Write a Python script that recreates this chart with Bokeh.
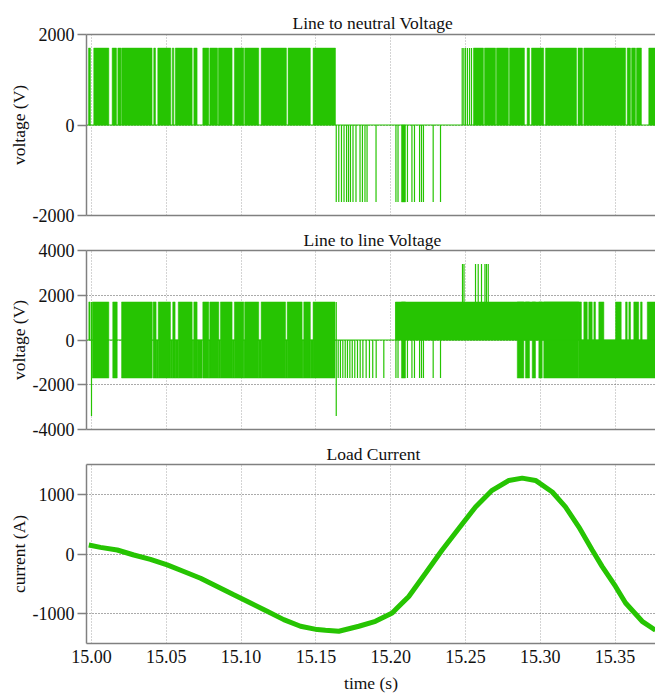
from bokeh.plotting import figure
from bokeh.models import Range1d, FixedTicker, LinearAxis, NumeralTickFormatter
from bokeh.layouts import column
from bokeh.embed import file_html
from bokeh.resources import INLINE

# ---------------- data ----------------
x_ticks = [15.00, 15.05, 15.10, 15.15, 15.20, 15.25, 15.30, 15.35]
x_start, x_end = 14.99666, 15.37701

# Line-to-neutral voltage
LN_LEVEL = 1700
ln_pos_start = [14.9980, 15.0015, 15.0138, 15.0176, 15.0201, 15.0416, 15.0443, 15.0540, 15.0560,
                15.0684, 15.0744, 15.0791, 15.0848, 15.0955, 15.1024, 15.1134, 15.1314, 15.1481,
                15.2553, 15.2627, 15.2707, 15.2794, 15.2912, 15.2941, 15.3035, 15.3252, 15.3291,
                15.3581, 15.3610, 15.3643, 15.3725]
ln_pos_end = [14.9993, 15.0116, 15.0167, 15.0197, 15.0405, 15.0428, 15.0530, 15.0550, 15.0673,
              15.0706, 15.0784, 15.0843, 15.0940, 15.1018, 15.1118, 15.1303, 15.1463, 15.1631,
              15.2620, 15.2701, 15.2787, 15.2894, 15.2928, 15.3023, 15.3242, 15.3282, 15.3570,
              15.3603, 15.3636, 15.3676, 15.3800]
ln_pos_spikes = [15.2478, 15.2489, 15.2500, 15.2513, 15.2527, 15.2540]
ln_neg_spikes = [15.1636, 15.1653, 15.1671, 15.1688, 15.1705, 15.1718, 15.1731, 15.1748, 15.1768,
                 15.1795, 15.1811, 15.1828, 15.1842, 15.1902, 15.2035, 15.2049, 15.2112, 15.2142,
                 15.2159, 15.2193, 15.2206, 15.2219, 15.2284, 15.2333]
ln_neg_block_start = [15.2072]
ln_neg_block_end = [15.2099]

# Line-to-line voltage
LL_LEVEL = 1700
ll_full_start = [15.0005, 15.0142, 15.0201, 15.0412, 15.0446, 15.0543, 15.0580, 15.0684, 15.0744,
                 15.0791, 15.0862, 15.0955, 15.1024, 15.1134, 15.1308, 15.1419, 15.1481, 15.2072,
                 15.2846, 15.2901, 15.2946, 15.2990, 15.3023]
ll_full_end = [15.0116, 15.0172, 15.0406, 15.0432, 15.0528, 15.0559, 15.0673, 15.0706, 15.0784,
               15.0851, 15.0940, 15.1018, 15.1118, 15.1297, 15.1408, 15.1463, 15.1628, 15.2099,
               15.2890, 15.2928, 15.2968, 15.3013, 15.3257]
ll_upper_start = [14.9982, 15.2032, 15.3257, 15.3291, 15.3324, 15.3358, 15.3391, 15.3503, 15.3570,
                  15.3592, 15.3625, 15.3670, 15.3715]
ll_upper_end = [14.9991, 15.3257, 15.3275, 15.3314, 15.3347, 15.3369, 15.3425, 15.3541, 15.3581,
                15.3603, 15.3658, 15.3681, 15.3800]
ll_lower_start = [15.0432, 15.0528, 15.0559, 15.0673, 15.0706, 15.0784, 15.0851, 15.0940, 15.1018,
                  15.1118, 15.1297, 15.1408, 15.1463, 15.3257]
ll_lower_end = [15.0446, 15.0543, 15.0580, 15.0684, 15.0740, 15.0791, 15.0862, 15.0955, 15.1024,
                15.1134, 15.1308, 15.1419, 15.1481, 15.3800]
ll_spike_t = [15.0000, 15.1636,
              15.1649, 15.1664, 15.1680, 15.1696, 15.1711, 15.1727, 15.1743, 15.1760, 15.1778,
              15.1796, 15.1814, 15.1836, 15.1858, 15.1880, 15.1903, 15.1954,
              15.2035, 15.2049,
              15.2112, 15.2142, 15.2159, 15.2193, 15.2206, 15.2219, 15.2284, 15.2333,
              15.2480, 15.2490, 15.2567, 15.2585, 15.2607, 15.2630, 15.2640, 15.2652]
ll_spike_lo = [-3400, -3400,
               -1700, -1700, -1700, -1700, -1700, -1700, -1700, -1700, -1700,
               -1700, -1700, -1700, -1700, -1700, -1700, -1700,
               -1700, -1700,
               -1700, -1700, -1700, -1700, -1700, -1700, -1700, -1700,
               1700, 1700, 1700, 1700, 1700, 1700, 1700, 1700]
ll_spike_hi = [1700, 1700,
               0, 0, 0, 0, 0, 0, 0, 0, 0,
               0, 0, 0, 0, 0, 0, 0,
               1700, 1700,
               0, 0, 0, 0, 0, 0, 0, 0,
               3400, 3400, 3400, 3400, 3400, 3400, 3400, 3400]

# Load current
cur_t = [14.9982, 15.0060, 15.0172, 15.0283, 15.0394, 15.0506, 15.0617, 15.0729, 15.0840, 15.0951,
         15.1063, 15.1174, 15.1285, 15.1397, 15.1509, 15.1564, 15.1653, 15.1787, 15.1898, 15.2010,
         15.2043, 15.2121, 15.2233, 15.2344, 15.2455, 15.2567, 15.2678, 15.2790, 15.2879, 15.2968,
         15.3080, 15.3168, 15.3257, 15.3347, 15.3414, 15.3503, 15.3570, 15.3681, 15.3770]
cur_i = [150, 111, 67, -17, -89, -183, -294, -406, -544, -683,
         -822, -961, -1100, -1211, -1267, -1278, -1294, -1211, -1128, -989,
         -906, -711, -322, 67, 428, 789, 1067, 1233, 1272, 1233,
         1039, 789, 456, 67, -211, -544, -822, -1128, -1278]

# ---------------- styling ----------------
GREEN = "#26c402"
FRAME = "#808080"
FONT = "Liberation Serif"
FS = "18px"
TFS = "17.5px"


def make_fig(height, yr, yticks, title, title_offset, title_standoff, top_border, bottom_border,
             ylabel, show_x):
    p = figure(width=655, height=height, output_backend="svg", toolbar_location=None,
               x_range=Range1d(x_start, x_end), y_range=Range1d(*yr),
               min_border_left=86, min_border_right=0,
               min_border_top=top_border, min_border_bottom=bottom_border)
    p.outline_line_color = None
    p.title.text = title
    p.title.align = "left"
    p.title.offset = title_offset
    p.title.text_font = FONT
    p.title.text_font_size = TFS
    p.title.text_font_style = "normal"
    p.title.text_color = "#111111"
    p.title.standoff = title_standoff
    xa = p.below[0]
    if show_x:
        xa.ticker = FixedTicker(ticks=x_ticks)
        xa.formatter = NumeralTickFormatter(format="0.00")
        xa.major_label_text_font = FONT
        xa.major_label_text_font_size = FS
        xa.major_label_text_color = "#111111"
        xa.major_label_standoff = 6
        xa.axis_label = "time (s)"
        xa.axis_label_text_font = FONT
        xa.axis_label_text_font_size = TFS
        xa.axis_label_text_font_style = "normal"
        xa.axis_label_text_color = "#111111"
        xa.axis_label_standoff = 7
    else:
        xa.ticker = FixedTicker(ticks=[])
        xa.major_label_standoff = 0
    xa.axis_line_color = FRAME
    xa.axis_line_width = 1.5
    xa.major_tick_line_color = None
    xa.major_tick_out = 0
    xa.major_tick_in = 0
    xa.minor_tick_line_color = None
    p.xgrid.ticker = FixedTicker(ticks=x_ticks)
    ya = p.left[0]
    ya.ticker = FixedTicker(ticks=yticks)
    ya.formatter = NumeralTickFormatter(format="0")
    ya.axis_line_color = FRAME
    ya.axis_line_width = 1.5
    ya.major_tick_line_color = FRAME
    ya.major_tick_line_width = 1.5
    ya.major_tick_out = 9
    ya.major_tick_in = 0
    ya.minor_tick_line_color = None
    ya.major_label_standoff = 3
    ya.major_label_text_font = FONT
    ya.major_label_text_font_size = FS
    ya.major_label_text_color = "#111111"
    ya.axis_label = ylabel
    ya.axis_label_text_font = FONT
    ya.axis_label_text_font_size = TFS
    ya.axis_label_text_font_style = "normal"
    ya.axis_label_text_color = "#111111"
    ya.axis_label_standoff = 1
    p.ygrid.ticker = FixedTicker(ticks=yticks)
    p.xgrid.grid_line_color = "#a8a8a8"
    p.xgrid.grid_line_dash = "1 2"
    p.ygrid.grid_line_color = "#555555"
    p.ygrid.grid_line_dash = "1 2"
    top_ax = LinearAxis(axis_line_color=FRAME, axis_line_width=1.5,
                        major_tick_line_color=None, minor_tick_line_color=None,
                        major_tick_out=0, major_tick_in=0,
                        major_label_standoff=0, ticker=FixedTicker(ticks=[]))
    p.add_layout(top_ax, "above")
    return p


# ---- panel 1: line to neutral ----
p1 = make_fig(226, (-2000, 2000), [-2000, 0, 2000], "Line to neutral Voltage", 206, 4, 34, 11,
              "voltage (V)", False)
p1.line([x_start, x_end], [0, 0], line_color=GREEN, line_width=1)
p1.quad(left=ln_pos_start, right=ln_pos_end, bottom=[0] * len(ln_pos_start),
        top=[LN_LEVEL] * len(ln_pos_start), fill_color=GREEN, line_color=GREEN, line_width=0.5)
p1.quad(left=ln_neg_block_start, right=ln_neg_block_end, bottom=[-LN_LEVEL] * len(ln_neg_block_start),
        top=[0] * len(ln_neg_block_start), fill_color=GREEN, line_color=GREEN, line_width=0.5)
p1.segment(x0=ln_pos_spikes, y0=[0] * len(ln_pos_spikes), x1=ln_pos_spikes,
           y1=[LN_LEVEL] * len(ln_pos_spikes), line_color=GREEN, line_width=1.2)
p1.segment(x0=ln_neg_spikes, y0=[0] * len(ln_neg_spikes), x1=ln_neg_spikes,
           y1=[-LN_LEVEL] * len(ln_neg_spikes), line_color=GREEN, line_width=1.2)

# ---- panel 2: line to line ----
p2 = make_fig(214, (-4000, 4000), [-4000, -2000, 0, 2000, 4000], "Line to line Voltage", 217, 2, 23, 11,
              "voltage (V)", False)
p2.line([x_start, x_end], [0, 0], line_color=GREEN, line_width=1)
p2.quad(left=ll_full_start, right=ll_full_end, bottom=[-LL_LEVEL] * len(ll_full_start),
        top=[LL_LEVEL] * len(ll_full_start), fill_color=GREEN, line_color=GREEN, line_width=0.5)
p2.quad(left=ll_upper_start, right=ll_upper_end, bottom=[0] * len(ll_upper_start),
        top=[LL_LEVEL] * len(ll_upper_start), fill_color=GREEN, line_color=GREEN, line_width=0.5)
p2.quad(left=ll_lower_start, right=ll_lower_end, bottom=[-LL_LEVEL] * len(ll_lower_start),
        top=[0] * len(ll_lower_start), fill_color=GREEN, line_color=GREEN, line_width=0.5)
p2.segment(x0=ll_spike_t, y0=ll_spike_lo, x1=ll_spike_t, y1=ll_spike_hi,
           line_color=GREEN, line_width=1.2)

# ---- panel 3: load current ----
p3 = make_fig(255, (-1500, 1500), [-1000, 0, 1000], "Load Current", 240, 2, 23, 51,
              "current (A)", True)
p3.line(cur_t, cur_i, line_color=GREEN, line_width=5)

layout = column(p1, p2, p3)
open("out.html", "w").write(file_html(layout, INLINE))
